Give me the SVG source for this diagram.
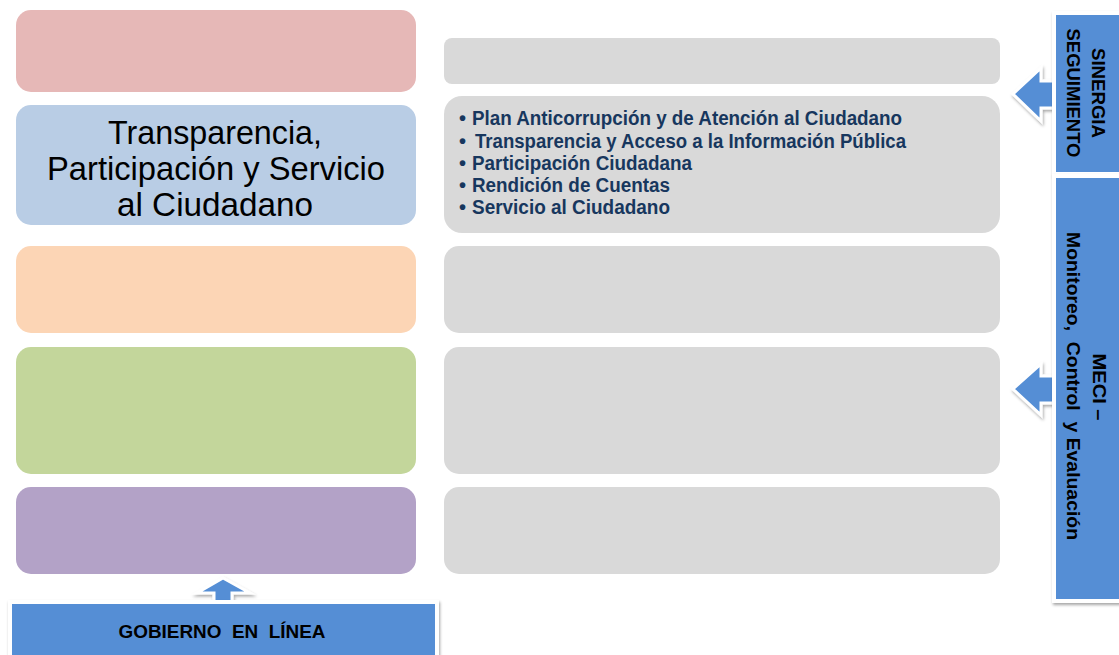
<svg xmlns="http://www.w3.org/2000/svg" width="1119" height="655" viewBox="0 0 1119 655">
<defs>
<filter id="sh" x="-20%" y="-20%" width="140%" height="140%">
<feDropShadow dx="1" dy="2" stdDeviation="1.5" flood-color="#000" flood-opacity="0.35"/>
</filter>
<style>
.lb{stroke:none}
.gb{fill:#d9d9d9;stroke:none}
.panel{fill:#558ed5;stroke:#ffffff;stroke-width:4;filter:url(#sh)}
.arr{fill:#558ed5;stroke:#ffffff;stroke-width:3;stroke-linejoin:miter;filter:url(#sh)}
.big{font-family:"Liberation Sans",Arial,sans-serif;font-size:34px;fill:#000;text-anchor:middle}
.bul{font-family:"Liberation Sans",Arial,sans-serif;font-size:20px;font-weight:bold;fill:#17375e}
.pt{font-family:"Liberation Sans",Arial,sans-serif;font-size:19px;font-weight:bold;fill:#000;text-anchor:middle}
</style>
</defs>
<rect width="1119" height="655" fill="#ffffff"/>
<g id="left1"><rect class="lb" x="16" y="10" width="400" height="82" rx="15" fill="#e6b8b7"/></g>
<g id="left2"><rect class="lb" x="16" y="105" width="400" height="120" rx="15" fill="#b9cde5"/>
<text class="big" x="215" y="144" textLength="214" lengthAdjust="spacingAndGlyphs">Transparencia,</text>
<text class="big" x="216" y="180" textLength="338" lengthAdjust="spacingAndGlyphs">Participación y Servicio</text>
<text class="big" x="215" y="216" textLength="196" lengthAdjust="spacingAndGlyphs">al Ciudadano</text>
</g>
<g id="left3"><rect class="lb" x="16" y="246" width="400" height="87" rx="15" fill="#fcd5b5"/></g>
<g id="left4"><rect class="lb" x="16" y="347" width="400" height="127" rx="15" fill="#c3d69b"/></g>
<g id="left5"><rect class="lb" x="16" y="487" width="400" height="87" rx="15" fill="#b3a2c7"/></g>
<g id="right1"><rect class="gb" x="444" y="38" width="556" height="46" rx="8"/></g>
<g id="right2"><rect class="gb" x="444" y="96" width="556" height="137" rx="18"/>
<text class="bul" x="459" y="125">•</text><text class="bul" x="472" y="125" textLength="430" lengthAdjust="spacingAndGlyphs">Plan Anticorrupción y de Atención al Ciudadano</text>
<text class="bul" x="459" y="148">•</text><text class="bul" x="475" y="148" textLength="431" lengthAdjust="spacingAndGlyphs">Transparencia y Acceso a la Información Pública</text>
<text class="bul" x="459" y="170">•</text><text class="bul" x="472" y="170" textLength="220" lengthAdjust="spacingAndGlyphs">Participación Ciudadana</text>
<text class="bul" x="459" y="192">•</text><text class="bul" x="472" y="192" textLength="198" lengthAdjust="spacingAndGlyphs">Rendición de Cuentas</text>
<text class="bul" x="459" y="214">•</text><text class="bul" x="472" y="214" textLength="198" lengthAdjust="spacingAndGlyphs">Servicio al Ciudadano</text>
</g>
<g id="right3"><rect class="gb" x="444" y="246" width="556" height="87" rx="15"/></g>
<g id="right4"><rect class="gb" x="444" y="347" width="556" height="127" rx="15"/></g>
<g id="right5"><rect class="gb" x="444" y="487" width="556" height="87" rx="15"/></g>
<g id="connectors">
<polygon class="arr" points="1013,94 1041,68 1041,81 1056,81 1056,108 1041,108 1041,121"/>
<polygon class="arr" points="1013,389 1041,364 1041,376 1056,376 1056,403 1041,403 1041,415"/>
<polygon class="arr" points="223,578 250,593 232,593 232,604 214,604 214,593 197,593"/>
</g>
<g id="sinergia"><rect class="panel" x="1054" y="13" width="70" height="161"/>
<text class="pt" transform="translate(1092,93) rotate(90)" textLength="90" lengthAdjust="spacingAndGlyphs">SINERGIA</text>
<text class="pt" transform="translate(1067,93) rotate(90)" textLength="129" lengthAdjust="spacingAndGlyphs">SEGUIMIENTO</text>
</g>
<g id="meci"><rect class="panel" x="1054" y="176" width="70" height="425"/>
<text class="pt" transform="translate(1093,387) rotate(90)" textLength="67" lengthAdjust="spacingAndGlyphs">MECI –</text>
<text class="pt" transform="translate(1067,386) rotate(90)" textLength="308" lengthAdjust="spacingAndGlyphs" xml:space="preserve">Monitoreo,  Control  y Evaluación</text>
</g>
<g id="gobierno"><rect class="panel" x="10" y="602" width="427" height="60"/>
<text class="pt" x="222" y="638" textLength="207" lengthAdjust="spacingAndGlyphs" xml:space="preserve">GOBIERNO  EN  LÍNEA</text>
</g>
</svg>
